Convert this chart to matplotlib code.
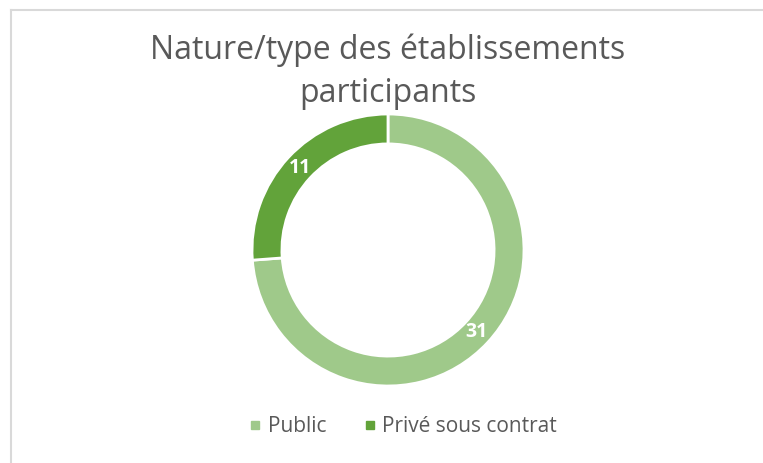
import matplotlib
matplotlib.use("Agg")
import matplotlib.pyplot as plt
from matplotlib.lines import Line2D
import numpy as np

# chart data
categories = ["Public", "Privé sous contrat"]
counts = [31, 11]
colors = ["#9fc98a", "#62a33a"]
title = "Nature/type des établissements\nparticipants"

W, H = 763, 463
fig = plt.figure(figsize=(W / 100, H / 100), dpi=100)
fig.patch.set_facecolor("white")

# light frame around the chart area
fig.add_artist(Line2D([11 / W, 1], [1 - 10 / H, 1 - 10 / H], color="#d9d9d9", lw=1.5))
fig.add_artist(Line2D([11 / W, 11 / W], [0, 1 - 10 / H], color="#d9d9d9", lw=1.5))

# donut axes, centred at (388, 250) px with radius 136 px
cx, cy, r = 388, 250, 136
ax = fig.add_axes([(cx - r) / W, (H - cy - r) / H, 2 * r / W, 2 * r / H])
wedges, _ = ax.pie(counts, colors=colors, startangle=90, counterclock=False,
                   radius=1.0, wedgeprops=dict(width=0.22, edgecolor="white", linewidth=2))
ax.set_xlim(-1, 1)
ax.set_ylim(-1, 1)
ax.set_aspect("equal")
ax.axis("off")

for w, n in zip(wedges, counts):
    ang = np.deg2rad((w.theta1 + w.theta2) / 2)
    ax.text(0.885 * np.cos(ang), 0.885 * np.sin(ang), str(n), color="white",
            fontsize=14, fontweight="bold", ha="center", va="center",
            family="Open Sans")

fig.text(cx / W, 1 - 72 / H, title, ha="center", va="center", fontsize=23,
         color="#595959", family="Open Sans", linespacing=1.4)

handles = [Line2D([], [], marker="s", color=c, ls="", markersize=6) for c in colors]
fig.legend(handles, categories, loc="center", bbox_to_anchor=(401 / W, 1 - 427 / H),
           ncol=2, frameon=False, labelcolor="#595959",
           handletextpad=0.1, columnspacing=1.6, handlelength=1.0,
           prop=dict(family="Open Sans", size=15))

fig.savefig("out.png", dpi=100)
